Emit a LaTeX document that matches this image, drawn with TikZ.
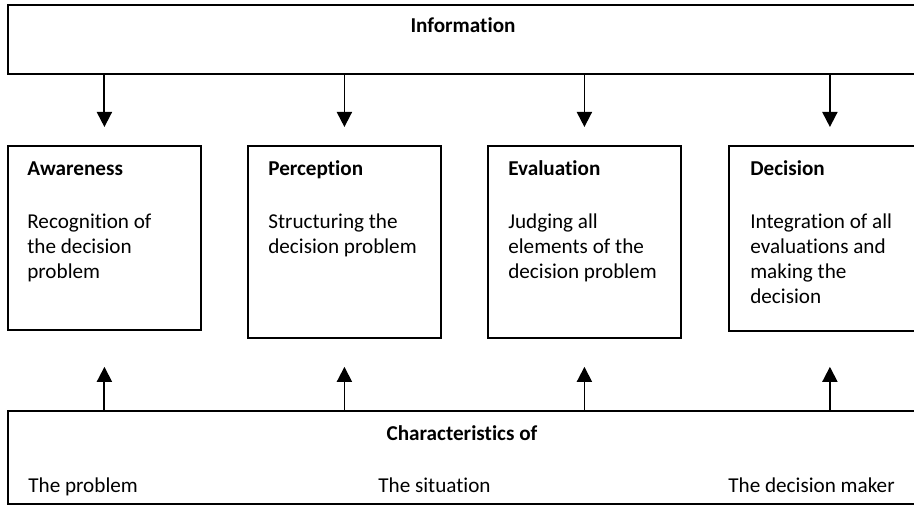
\documentclass[tikz,border=0pt]{standalone}
\usepackage{fontspec}
\setmainfont{Carlito}[RawFeature={-liga;-clig;-dlig}]
\usetikzlibrary{arrows.meta}
\tikzset{
  frame/.style={draw=black, line width=1.1pt, fill=none, inner sep=0pt, anchor=north west},
  arr/.style={draw=black, line width=1.1pt, -{Triangle[width=9pt,length=9pt]}},
  txt/.style={inner sep=0pt, font=\fontsize{12.7}{15}\selectfont, text=black},
  ttl/.style={txt, font=\fontsize{12.7}{15}\selectfont\bfseries},
  body/.style={txt, align=left, anchor=north west}
}
\begin{document}
\begin{tikzpicture}[x=0.6pt, y=-0.6pt]
  \useasboundingbox (0,0) rectangle (914,505);
  \clip (0,0) rectangle (914,505);

  % outer bands
  \node[frame, minimum width=553.8pt, minimum height=41.4pt] (info) at (7,4) {};
  \node[frame, minimum width=553.8pt, minimum height=55.8pt] (ch) at (7,410) {};

  % the four stages
  \node[frame, minimum width=115.8pt, minimum height=110.4pt] (aw) at (7,145) {};
  \node[frame, minimum width=115.8pt, minimum height=115.2pt] (pe) at (247,145) {};
  \node[frame, minimum width=115.8pt, minimum height=115.2pt] (ev) at (487,145) {};
  \node[frame, minimum width=121.2pt, minimum height=111pt] (de) at (728,145) {};

  % band labels
  \node[ttl, anchor=base] (infot) at (463,33) {Information};
  \node[ttl, anchor=base] (cht) at (462,440) {Characteristics of};
  \node[txt, anchor=base west] (c1) at (28,492) {The problem};
  \node[txt, anchor=base west] (c2) at (378,492) {The situation};
  \node[txt, anchor=base west] (c3) at (728,492) {The decision maker};

  % stage titles
  \node[ttl, anchor=base west] (awt) at (27,176) {Awareness};
  \node[ttl, anchor=base west] (pet) at (268,176) {Perception};
  \node[ttl, anchor=base west] (evt) at (508,176) {Evaluation};
  \node[ttl, anchor=base west] (det) at (750,176) {Decision};

  % stage descriptions (first baseline at y = 228)
  \node[body] (awb) at (27,210.5) {\strut Recognition of\\the decision\\problem};
  \node[body] (peb) at (268,210.5) {\strut Structuring the\\decision problem};
  \node[body] (evb) at (508,210.5) {\strut Judging all\\elements of the\\decision problem};
  \node[body] (deb) at (750,210.5) {\strut Integration of all\\evaluations and\\making the\\decision};

  % information flows down into each stage
  \draw[arr, shorten >=10.8pt] (info.south -| aw.north) -- (aw.north);
  \draw[arr, shorten >=10.8pt] (info.south -| pe.north) -- (pe.north);
  \draw[arr, shorten >=10.8pt] (info.south -| ev.north) -- (ev.north);
  \draw[arr, shorten >=10.8pt] (info.south -| de.north) -- (de.north);

  % characteristics act on each stage from below
  \draw[arr, shorten >=21.6pt] (ch.north -| aw.south) -- (aw.south);
  \draw[arr, shorten >=16.8pt] (ch.north -| pe.south) -- (pe.south);
  \draw[arr, shorten >=16.8pt] (ch.north -| ev.south) -- (ev.south);
  \draw[arr, shorten >=21pt] (ch.north -| de.south) -- (de.south);
\end{tikzpicture}
\end{document}
